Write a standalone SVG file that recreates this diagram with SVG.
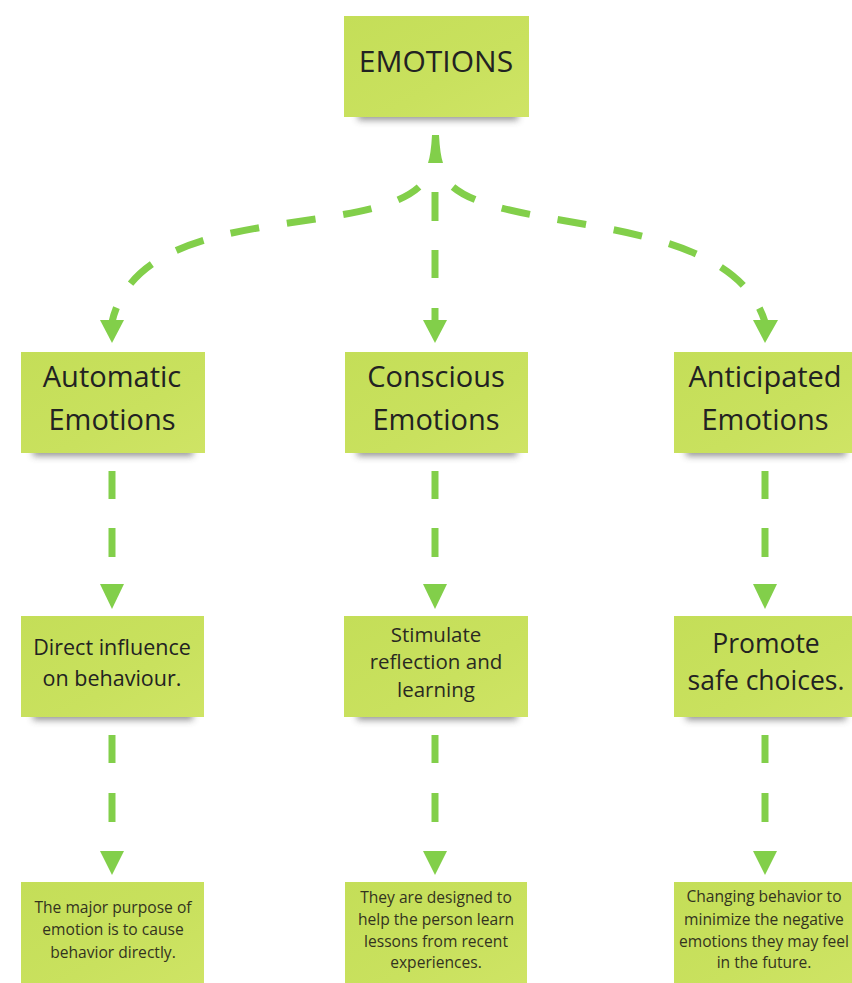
<svg xmlns="http://www.w3.org/2000/svg" width="852" height="983" viewBox="0 0 852 983">
  <defs>
    <linearGradient id="note" x1="0" y1="0" x2="1" y2="1">
      <stop offset="0" stop-color="#c4de58"/>
      <stop offset="0.6" stop-color="#c9e15e"/>
      <stop offset="1" stop-color="#cfe465"/>
    </linearGradient>
    <filter id="soft" x="-20%" y="-100%" width="140%" height="300%">
      <feGaussianBlur stdDeviation="3.5"/>
    </filter>
  </defs>
  <style>
    .note { fill: url(#note); }
    .shadow { fill: #4a4a4a; opacity: 0.6; filter: url(#soft); }
    .t { font-family: "Open Sans", "Noto Sans", "DejaVu Sans", sans-serif; text-anchor: middle; fill: #222; }
    .big { font-size: 29px; }
    .top { font-size: 30px; }
    .mid { font-size: 21.5px; }
    .mid2 { font-size: 20.5px; fill: #2a2a22; }
    .mid3 { font-size: 26.5px; }
    .small { font-size: 15.6px; fill: #33331f; }
    .dash { fill: none; stroke: #82cf4a; stroke-width: 7; }
    .head { fill: #82cf4a; }
  </style>

  <rect width="852" height="983" fill="#ffffff"/>

  <!-- connectors -->
  <g id="connectors">
    <!-- arrow into the top note -->
    <path class="head" d="M432,135 L439,135 Q440,154 443,163 L428,163 Q431,154 432,135 Z"/>

    <!-- centre branch -->
    <line class="dash" x1="435" y1="192" x2="435" y2="221"/>
    <line class="dash" x1="435" y1="250" x2="435" y2="278"/>
    <line class="dash" x1="435" y1="308" x2="435" y2="322"/>
    <polygon class="head" points="423,320 447,320 435,343"/>

    <!-- left branch (drawn from the arrow end back up to the fork) -->
    <path class="dash" stroke-dasharray="29 28" stroke-dashoffset="14" d="M112,322 C140,200 360,240 419,187"/>
    <polygon class="head" points="100,320 124,320 112,343"/>

    <!-- right branch (drawn from the arrow end back up to the fork) -->
    <path class="dash" stroke-dasharray="29 28" stroke-dashoffset="14" d="M765,322 C730,210 510,235 453,187"/>
    <polygon class="head" points="753,320 778,320 765,343"/>

    <!-- row 1 to row 2 -->
    <line class="dash" x1="112" y1="471" x2="112" y2="499"/>
    <line class="dash" x1="112" y1="528" x2="112" y2="557"/>
    <polygon class="head" points="100,584 124,584 112,609"/>
    <line class="dash" x1="435" y1="471" x2="435" y2="499"/>
    <line class="dash" x1="435" y1="528" x2="435" y2="557"/>
    <polygon class="head" points="423,584 447,584 435,609"/>
    <line class="dash" x1="765" y1="471" x2="765" y2="499"/>
    <line class="dash" x1="765" y1="528" x2="765" y2="557"/>
    <polygon class="head" points="753,584 777,584 765,609"/>

    <!-- row 2 to row 3 -->
    <line class="dash" x1="112" y1="735" x2="112" y2="763"/>
    <line class="dash" x1="112" y1="793" x2="112" y2="822"/>
    <polygon class="head" points="100,851 124,851 112,875"/>
    <line class="dash" x1="435" y1="735" x2="435" y2="763"/>
    <line class="dash" x1="435" y1="793" x2="435" y2="822"/>
    <polygon class="head" points="423,851 447,851 435,875"/>
    <line class="dash" x1="765" y1="735" x2="765" y2="763"/>
    <line class="dash" x1="765" y1="793" x2="765" y2="822"/>
    <polygon class="head" points="753,851 777,851 765,875"/>
  </g>

  <!-- top note -->
  <g id="emotions">
    <rect class="shadow" x="358" y="110" width="160" height="10"/>
    <rect class="note" x="344" y="16" width="185" height="101"/>
    <text class="t top" x="436" y="72">EMOTIONS</text>
  </g>

  <!-- row 1 -->
  <g id="automatic">
    <rect class="shadow" x="33" y="446" width="160" height="10"/>
    <rect class="note" x="21" y="352" width="184" height="101"/>
    <text class="t big" x="112" y="387">Automatic</text>
    <text class="t big" x="112" y="430">Emotions</text>
  </g>
  <g id="conscious">
    <rect class="shadow" x="357" y="446" width="160" height="10"/>
    <rect class="note" x="345" y="352" width="183" height="101"/>
    <text class="t big" x="436" y="387">Conscious</text>
    <text class="t big" x="436" y="430">Emotions</text>
  </g>
  <g id="anticipated">
    <rect class="shadow" x="686" y="446" width="160" height="10"/>
    <rect class="note" x="674" y="352" width="180" height="101"/>
    <text class="t big" x="765" y="387">Anticipated</text>
    <text class="t big" x="765" y="430">Emotions</text>
  </g>

  <!-- row 2 -->
  <g id="direct-influence">
    <rect class="shadow" x="33" y="710" width="160" height="10"/>
    <rect class="note" x="21" y="616" width="183" height="101"/>
    <text class="t mid" x="112" y="655">Direct influence</text>
    <text class="t mid" x="112" y="686">on behaviour.</text>
  </g>
  <g id="stimulate">
    <rect class="shadow" x="357" y="710" width="160" height="10"/>
    <rect class="note" x="344" y="616" width="184" height="101"/>
    <text class="t mid2" x="436" y="642">Stimulate</text>
    <text class="t mid2" x="436" y="669">reflection and</text>
    <text class="t mid2" x="436" y="697">learning</text>
  </g>
  <g id="promote">
    <rect class="shadow" x="686" y="710" width="160" height="10"/>
    <rect class="note" x="674" y="616" width="180" height="101"/>
    <text class="t mid3" x="766" y="653">Promote</text>
    <text class="t mid3" x="766" y="690">safe choices.</text>
  </g>

  <!-- row 3 -->
  <g id="purpose">
    <rect class="note" x="21" y="882" width="183" height="104"/>
    <text class="t small" x="113" y="913">The major purpose of</text>
    <text class="t small" x="113" y="935">emotion is to cause</text>
    <text class="t small" x="113" y="958">behavior directly.</text>
  </g>
  <g id="lessons">
    <rect class="note" x="345" y="882" width="182" height="104"/>
    <text class="t small" x="436" y="903">They are designed to</text>
    <text class="t small" x="436" y="925">help the person learn</text>
    <text class="t small" x="436" y="947">lessons from recent</text>
    <text class="t small" x="436" y="968">experiences.</text>
  </g>
  <g id="future">
    <rect class="note" x="674" y="882" width="180" height="104"/>
    <text class="t small" x="764" y="902">Changing behavior to</text>
    <text class="t small" x="764" y="925">minimize the negative</text>
    <text class="t small" x="764" y="947">emotions they may feel</text>
    <text class="t small" x="764" y="968">in the future.</text>
  </g>
</svg>
